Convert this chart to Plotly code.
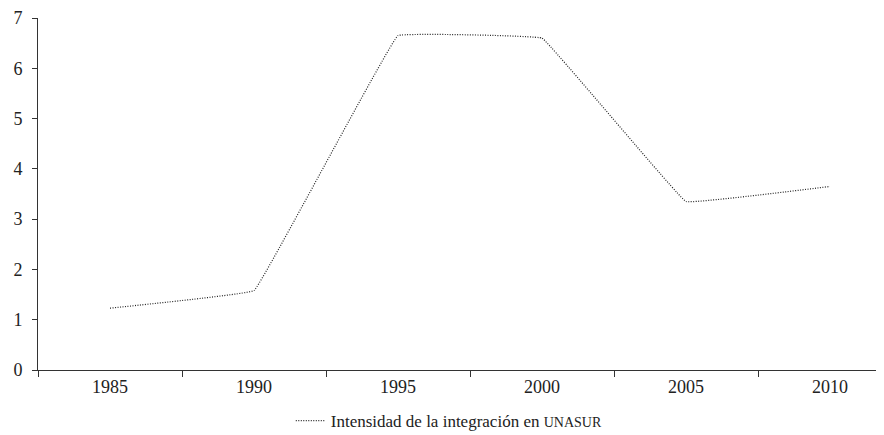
import plotly.graph_objects as go

years = ["1985", "1990", "1995", "2000", "2005", "2010"]
intensidad = [1.23, 1.58, 6.65, 6.6, 3.35, 3.65]
series_name = "Intensidad de la integración en <span style='font-size:14px'>UNASUR</span>"
y_ticks = [0, 1, 2, 3, 4, 5, 6, 7]

xpos = list(range(len(years)))

fig = go.Figure()
fig.add_trace(go.Scatter(
    x=xpos, y=intensidad, mode="lines", name=series_name,
    line=dict(color="#222222", width=1.2, dash="1px,1.5px", shape="spline", smoothing=0.12),
    showlegend=True,
))

font = "Liberation Serif, Times New Roman, serif"
fig.update_layout(
    width=884, height=435,
    margin=dict(l=30, r=0, t=10, b=73),
    paper_bgcolor="white", plot_bgcolor="white",
    font=dict(family=font, size=18, color="#222222"),
    showlegend=True,
    legend=dict(orientation="h", x=0.296, xanchor="left", y=-0.145, yanchor="middle",
                font=dict(family=font, size=17, color="#222222"), bgcolor="rgba(0,0,0,0)"),
)
fig.update_xaxes(
    range=[-0.5, -0.5 + 854 / 144], automargin=False,
    tickmode="array", tickvals=xpos, ticktext=years, ticks="", showgrid=False,
    showline=True, linecolor="#333333", linewidth=1, zeroline=False,
    tickfont=dict(family=font, size=18, color="#222222"),
    ticklabeloverflow="allow",
    minor=dict(tickmode="array", tickvals=[i - 0.5 for i in range(len(years) + 1)],
               ticks="outside", ticklen=6, tickcolor="#333333", tickwidth=1, showgrid=False),
    fixedrange=True,
)
fig.update_yaxes(
    range=[0, 7], tickmode="array", tickvals=y_ticks, ticks="outside", ticklen=5,
    tickcolor="#333333", showgrid=False, showline=True, linecolor="#333333", linewidth=1,
    zeroline=False, tickfont=dict(family=font, size=18, color="#222222"), ticklabelstandoff=6,
    ticklabeloverflow="allow", automargin=False, fixedrange=True,
)
fig.write_html("out.html")
